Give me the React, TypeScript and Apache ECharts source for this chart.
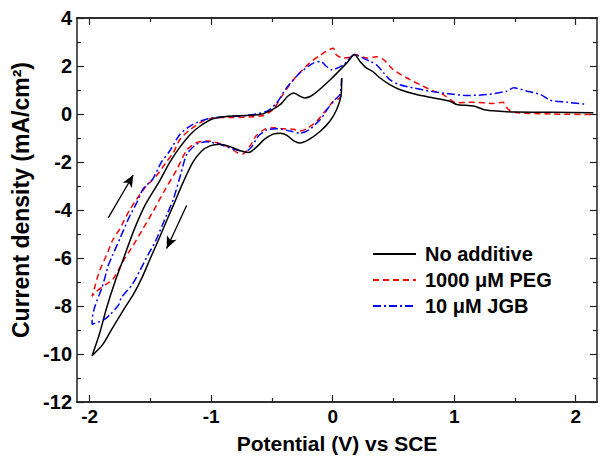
import React, { useEffect, useRef } from "react";
import * as echarts from "echarts";

const seriesNames = ["No additive", "1000 μM PEG", "10 μM JGB"];

const noAdditive: number[][] = [
  [0.074, 1.5], [0.068, 0.74], [0.033, 0.19], [-0.022, -0.29], [-0.1, -0.71], [-0.19, -1.05],
  [-0.27, -1.21], [-0.32, -1.12], [-0.38, -0.88], [-0.43, -0.8], [-0.49, -0.84], [-0.56, -1.05],
  [-0.63, -1.39], [-0.69, -1.6], [-0.76, -1.53], [-0.85, -1.35], [-0.93, -1.26], [-1.01, -1.33],
  [-1.08, -1.55], [-1.15, -2.01], [-1.23, -2.84], [-1.3, -3.67], [-1.37, -4.49], [-1.44, -5.32],
  [-1.5, -6.01], [-1.57, -6.83], [-1.64, -7.52], [-1.71, -8.07], [-1.81, -8.9], [-1.89, -9.59],
  [-1.98, -10.07],
  [-1.92, -9.18], [-1.86, -8.07], [-1.79, -6.97], [-1.72, -6.01], [-1.64, -4.9], [-1.545, -3.81],
  [-1.43, -2.84], [-1.34, -2.01], [-1.26, -1.4], [-1.17, -0.84], [-1.09, -0.5], [-0.98, -0.19],
  [-0.85, -0.09], [-0.71, -0.06], [-0.6, -0.02], [-0.52, 0.12], [-0.43, 0.4], [-0.37, 0.74],
  [-0.32, 0.88], [-0.28, 0.77], [-0.23, 0.67], [-0.16, 0.81], [-0.02, 1.43], [0.115, 2.12],
  [0.18, 2.48],
  [0.225, 2.19], [0.28, 1.91], [0.33, 1.77], [0.39, 1.5], [0.47, 1.22], [0.55, 1.02], [0.69, 0.81],
  [0.83, 0.67], [0.965, 0.53], [1.02, 0.4], [1.16, 0.33], [1.24, 0.19], [1.35, 0.12], [1.51, 0.08],
  [1.8, 0.07], [2.145, 0.05],
];

const peg1000: number[][] = [
  [0.07, 0.78], [0.06, 0.67], [0.005, 0.53], [-0.05, 0.19], [-0.13, -0.29], [-0.2, -0.57],
  [-0.27, -0.71], [-0.32, -0.64], [-0.41, -0.61], [-0.49, -0.57], [-0.56, -0.64], [-0.63, -0.91],
  [-0.68, -1.33], [-0.74, -1.67], [-0.79, -1.6], [-0.85, -1.39], [-0.955, -1.19], [-1.04, -1.12],
  [-1.12, -1.19], [-1.2, -1.5], [-1.28, -2.29], [-1.39, -3.25], [-1.48, -4.08], [-1.56, -4.77],
  [-1.64, -5.46], [-1.71, -6.01], [-1.81, -6.9], [-1.87, -7.11], [-1.94, -7.38], [-1.98, -7.59],
  [-1.96, -7.25], [-1.92, -6.56], [-1.86, -5.87], [-1.81, -5.25], [-1.75, -4.77], [-1.68, -4.08],
  [-1.61, -3.53], [-1.53, -2.98], [-1.45, -2.57], [-1.37, -2.01], [-1.31, -1.6], [-1.256, -1.05],
  [-1.17, -0.64], [-1.065, -0.29], [-0.955, -0.15], [-0.82, -0.15], [-0.65, -0.11], [-0.57, -0.06],
  [-0.49, 0.19], [-0.41, 0.81], [-0.3, 1.57], [-0.19, 2.12], [-0.1, 2.46], [0.005, 2.74],
  [0.03, 2.46], [0.09, 2.33], [0.17, 2.39], [0.18, 2.48],
  [0.28, 2.33], [0.36, 2.39], [0.42, 2.26], [0.5, 1.84], [0.61, 1.5], [0.72, 1.22], [0.83, 0.95],
  [0.91, 0.81], [0.965, 0.6], [1.02, 0.47], [1.16, 0.49], [1.32, 0.44], [1.4, 0.49], [1.445, 0.19],
  [1.51, 0.06], [1.8, 0.0], [2.145, -0.02],
];

const jgb10: number[][] = [
  [0.074, 1.5], [0.06, 0.81], [0.02, 0.6], [-0.036, 0.26], [-0.1, -0.22], [-0.19, -0.64],
  [-0.27, -0.8], [-0.35, -0.71], [-0.46, -0.61], [-0.54, -0.66], [-0.61, -0.91], [-0.67, -1.39],
  [-0.72, -1.57], [-0.82, -1.46], [-0.93, -1.26], [-1.04, -1.16], [-1.12, -1.26], [-1.2, -1.67],
  [-1.25, -2.5], [-1.31, -3.53], [-1.39, -4.49], [-1.46, -5.32], [-1.52, -5.87], [-1.59, -6.56],
  [-1.65, -7.11], [-1.74, -7.66], [-1.76, -7.94], [-1.83, -8.35], [-1.89, -8.6], [-1.98, -8.76],
  [-1.98, -8.62], [-1.96, -8.07], [-1.9, -7.25], [-1.86, -6.56], [-1.85, -6.35], [-1.81, -5.87],
  [-1.75, -5.18], [-1.68, -4.36], [-1.61, -3.67], [-1.56, -3.12], [-1.48, -2.7], [-1.41, -2.01],
  [-1.34, -1.53], [-1.256, -0.84], [-1.15, -0.43], [-1.04, -0.22], [-0.9, -0.11], [-0.71, -0.06],
  [-0.54, 0.12], [-0.46, 0.47], [-0.38, 1.09], [-0.27, 1.71], [-0.16, 2.12], [-0.1, 2.19],
  [-0.05, 1.98], [-0.01, 1.84], [0.09, 2.05], [0.18, 2.48],
  [0.25, 2.33], [0.31, 2.19], [0.36, 2.05], [0.42, 1.71], [0.47, 1.43], [0.55, 1.22], [0.66, 1.09],
  [0.8, 0.95], [0.94, 0.85], [1.1, 0.77], [1.27, 0.81], [1.43, 0.95], [1.49, 1.09], [1.6, 0.95],
  [1.71, 0.81], [1.79, 0.57], [1.93, 0.49], [2.09, 0.4],
];

const xMajorTicks = [-2, -1, 0, 1, 2];
const xMinorTicks = [-1.5, -0.5, 0.5, 1.5];
const xRange = [-2.104, 2.175];
const yRange = [-12, 4];

// scan-direction arrows, in data coordinates [start, end]
const arrowUp = [[-1.847, -4.33], [-1.641, -2.54]];
const arrowDown = [[-1.202, -3.81], [-1.366, -5.6]];

const FONT = '"Liberation Sans", Arial, sans-serif';
const AXIS_COLOR = "#222";

export default function App() {
  const ref = useRef<HTMLDivElement>(null);
  useEffect(() => {
    if (!ref.current) return;
    const chart = echarts.init(ref.current, undefined, { renderer: "svg" });
    const axisLine = { show: true, onZero: false, lineStyle: { color: AXIS_COLOR, width: 1.5 } };
    const xBase = {
      type: "value" as const,
      min: xRange[0],
      max: xRange[1],
      splitLine: { show: false },
      axisLine,
    };
    const yBase = {
      type: "value" as const,
      min: yRange[0],
      max: yRange[1],
      interval: 2,
      splitLine: { show: false },
      axisLine,
      axisTick: { show: true, inside: true, length: 7, lineStyle: { color: AXIS_COLOR, width: 1.2 } },
      minorTick: { show: true, splitNumber: 2, length: 4, lineStyle: { color: AXIS_COLOR, width: 1.2 } },
    };
    const tickStyle = { color: AXIS_COLOR, width: 1.2 };
    chart.setOption({
      animation: false,
      backgroundColor: "#fff",
      grid: { left: 77, right: 3, top: 18, bottom: 54, containLabel: false },
      legend: {
        left: 367,
        top: 239,
        orient: "vertical",
        itemWidth: 43,
        itemHeight: 14,
        itemGap: 6,
        data: seriesNames,
        itemStyle: { opacity: 0 },
        textStyle: {
          fontFamily: FONT,
          fontWeight: "bold",
          fontSize: 20,
          color: "#000",
          padding: [0, 0, 0, 4],
        },
      },
      xAxis: [
        {
          ...xBase,
          position: "bottom",
          name: "Potential (V) vs SCE",
          nameLocation: "middle",
          nameGap: 31,
          nameTextStyle: { fontFamily: FONT, fontWeight: "bold", fontSize: 21, color: "#000" },
          axisTick: { show: true, inside: true, length: 7, customValues: xMajorTicks, lineStyle: tickStyle },
          axisLabel: {
            show: true,
            customValues: xMajorTicks,
            margin: 5,
            fontFamily: FONT,
            fontWeight: "bold",
            fontSize: 19,
            color: "#000",
          },
        },
        {
          ...xBase,
          position: "bottom",
          axisTick: { show: true, inside: true, length: 4, customValues: xMinorTicks, lineStyle: tickStyle },
          axisLabel: { show: false },
        },
        {
          ...xBase,
          position: "top",
          axisTick: { show: true, inside: true, length: 7, customValues: xMajorTicks, lineStyle: tickStyle },
          axisLabel: { show: false },
        },
        {
          ...xBase,
          position: "top",
          axisTick: { show: true, inside: true, length: 4, customValues: xMinorTicks, lineStyle: tickStyle },
          axisLabel: { show: false },
        },
      ],
      yAxis: [
        {
          ...yBase,
          position: "left",
          name: "Current density (mA/cm²)",
          nameLocation: "middle",
          nameGap: 42,
          nameTextStyle: { fontFamily: FONT, fontWeight: "bold", fontSize: 23, color: "#000", padding: [0, 0, 0, 20] },
          axisLabel: { show: true, margin: 5, fontFamily: FONT, fontWeight: "bold", fontSize: 20, color: "#000" },
        },
        {
          ...yBase,
          position: "right",
          axisLabel: { show: false },
        },
      ],
      series: [
        {
          name: seriesNames[0],
          type: "line",
          data: noAdditive,
          symbol: "none",
          smooth: 0.25,
          lineStyle: { color: "#000", width: 1.5, type: "solid" },
          itemStyle: { color: "#000" },
          z: 3,
          markLine: {
            silent: true,
            symbol: ["none", "arrow"],
            symbolSize: [8, 12],
            label: { show: false },
            lineStyle: { color: "#000", width: 1.3, type: "solid" },
            data: [
              [{ coord: arrowUp[0] }, { coord: arrowUp[1] }],
              [{ coord: arrowDown[0] }, { coord: arrowDown[1] }],
            ],
          },
        },
        {
          name: seriesNames[1],
          type: "line",
          data: peg1000,
          symbol: "none",
          smooth: 0.25,
          lineStyle: { color: "#ff0000", width: 1.5, type: [6, 4] },
          itemStyle: { color: "#ff0000" },
          z: 2,
        },
        {
          name: seriesNames[2],
          type: "line",
          data: jgb10,
          symbol: "none",
          smooth: 0.25,
          lineStyle: { color: "#0000ff", width: 1.5, type: [8, 3, 2, 3] },
          itemStyle: { color: "#0000ff" },
          z: 2,
        },
      ],
    });
    return () => chart.dispose();
  }, []);
  return <div ref={ref} style={{ width: 600, height: 459, position: "absolute", left: 0, top: 0 }} />;
}
